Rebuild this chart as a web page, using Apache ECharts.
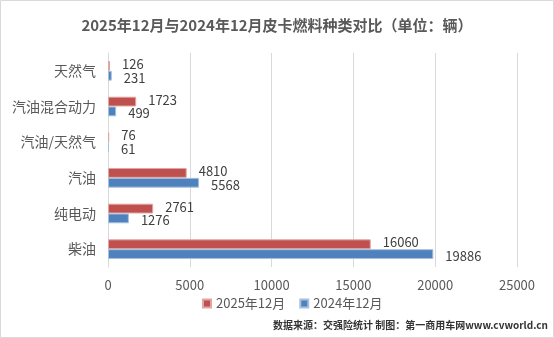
<!DOCTYPE html>
<html><head><meta charset="utf-8">
<style>html,body{margin:0;padding:0;background:#fff}#c{width:554px;height:338px}</style>
<script src="https://cdn.jsdelivr.net/npm/echarts@6/dist/echarts.min.js"></script>
</head><body><div id="c"></div>
<script>
const categories = ['柴油', '纯电动', '汽油', '汽油/天然气', '汽油混合动力', '天然气'];
const series2025 = [16060, 2761, 4810, 76, 1723, 126];
const series2024 = [19886, 1276, 5568, 61, 499, 231];
const xTicks = [0, 5000, 10000, 15000, 20000, 25000];
const seriesNames = ['2025年12月', '2024年12月'];

const chart = echarts.init(document.getElementById('c'));
const mkLabel = dy => ({show: true, position: 'right', distance: 12, offset: [0, dy], color: '#404040', fontSize: 13, fontFamily: 'Noto Sans CJK SC'});
chart.setOption({
  animation: false,
  textStyle: {fontFamily: 'Noto Sans CJK SC'},
  title: {text: '2025年12月与2024年12月皮卡燃料种类对比（单位：辆）', left: 'center', top: 13,
    textStyle: {fontSize: 15, fontWeight: 'bold', color: '#595959', fontFamily: 'Noto Sans CJK SC'}},
  graphic: [
    {type: 'rect', shape: {x: 0.5, y: 0.5, width: 553, height: 337}, style: {fill: 'none', stroke: '#d9d9d9', lineWidth: 1}, z: -1},
    {type: 'text', right: 6, top: 320, style: {text: '数据来源：交强险统计 制图：第一商用车网www.cvworld.cn', fontSize: 10, fontWeight: 'bold', fill: '#333', fontFamily: 'Noto Sans CJK SC'}}
  ],
  legend: {data: [seriesNames[0], seriesNames[1]], left: 197, top: 292, itemWidth: 8, itemHeight: 8, itemGap: 14,
    icon: 'rect', textStyle: {fontSize: 13, color: '#595959'}},
  grid: {left: 108, right: 37, top: 53, bottom: 71},
  xAxis: {type: 'value', min: xTicks[0], max: xTicks[xTicks.length - 1], interval: xTicks[1] - xTicks[0],
    axisLine: {show: false}, axisTick: {show: false},
    axisLabel: {color: '#595959', fontSize: 13, margin: 12, formatter: v => String(v)},
    splitLine: {lineStyle: {color: '#d9d9d9'}}},
  yAxis: {type: 'category', data: categories,
    axisLine: {show: true, lineStyle: {color: '#d9d9d9'}}, axisTick: {show: false},
    axisLabel: {color: '#595959', fontSize: 14, margin: 12}},
  series: [
    {name: seriesNames[0], type: 'bar', data: series2025, barGap: '0%', barCategoryGap: '45%',
      itemStyle: {color: '#C0504D', borderColor: '#DEA7A6', borderWidth: 1}, label: mkLabel(-2)},
    {name: seriesNames[1], type: 'bar', data: series2024, barGap: '0%', barCategoryGap: '45%',
      itemStyle: {color: '#4F81BD', borderColor: '#A7C0DE', borderWidth: 1}, label: mkLabel(2)}
  ]
});
</script></body></html>
